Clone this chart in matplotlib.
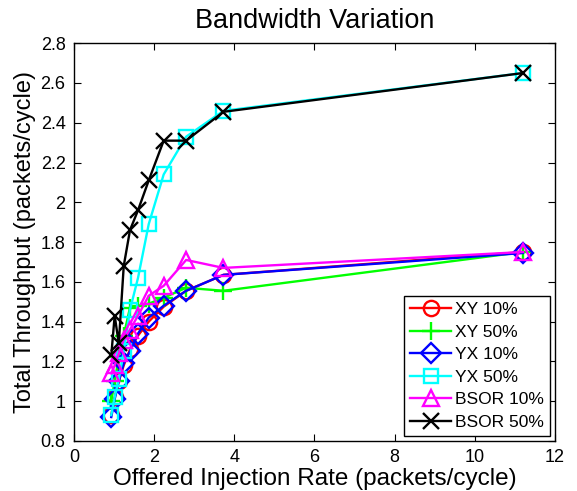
import matplotlib
matplotlib.use("Agg")
import matplotlib.pyplot as plt

plt.rcParams['font.family'] = ['Liberation Sans', 'DejaVu Sans']

# offered injection rates (packets/cycle)
rates = [0.933, 1.018, 1.12, 1.244, 1.4, 1.6, 1.867, 2.24, 2.8, 3.73, 11.2]

xy10 = [0.93, 1.02, 1.10, 1.18, 1.26, 1.33, 1.40, 1.475, 1.555, 1.635, 1.75]
xy50 = [1.00, 1.10, 1.22, 1.33, 1.47, 1.48, 1.49, 1.52, 1.57, 1.555, 1.75]
yx10 = [0.92, 1.01, 1.10, 1.19, 1.25, 1.34, 1.42, 1.48, 1.555, 1.635, 1.745]
yx50 = [0.93, 1.02, 1.11, 1.25, 1.46, 1.62, 1.89, 2.14, 2.33, 2.46, 2.65]
bsor10 = [1.14, 1.18, 1.24, 1.31, 1.36, 1.43, 1.53, 1.58, 1.71, 1.67, 1.75]
bsor50 = [1.23, 1.43, 1.29, 1.68, 1.86, 1.96, 2.11, 2.31, 2.31, 2.455, 2.65]

labels = ['XY 10%', 'XY 50%', 'YX 10%', 'YX 50%', 'BSOR 10%', 'BSOR 50%']
series = [xy10, xy50, yx10, yx50, bsor10, bsor50]
colors = ['#ff0000', '#00ff00', '#0000ff', '#00ffff', '#ff00ff', '#000000']
markers = ['o', '+', 'D', 's', '^', 'x']
msizes = [11, 13, 10, 10, 12, 11]

fig = plt.figure(figsize=(5.77, 4.91), dpi=100)
ax = fig.add_axes([0.128, 0.102, 0.834, 0.81])

for ys, lab, c, m, ms in zip(series, labels, colors, markers, msizes):
    ax.plot(rates, ys, color=c, marker=m, markersize=ms, markerfacecolor='none',
            markeredgecolor=c, markeredgewidth=1.7, linewidth=1.7, label=lab)

ax.set_xlim(0, 12)
ax.set_ylim(0.8, 2.8)
ax.set_xticks(range(0, 13, 2))
ax.set_yticks([0.8, 1, 1.2, 1.4, 1.6, 1.8, 2, 2.2, 2.4, 2.6, 2.8])
ax.set_yticklabels(['0.8', '1', '1.2', '1.4', '1.6', '1.8', '2', '2.2', '2.4', '2.6', '2.8'])
ax.tick_params(direction='in', top=True, right=True, labelsize=13, length=5, pad=6)
for s in ax.spines.values():
    s.set_linewidth(1.0)

ax.set_title('Bandwidth Variation', fontsize=19.5, pad=11)
ax.set_xlabel('Offered Injection Rate (packets/cycle)', fontsize=17.5, labelpad=1)
ax.set_ylabel('Total Throughput (packets/cycle)', fontsize=17, labelpad=3)

leg = ax.legend(loc='lower right', fontsize=12.5, fancybox=False, framealpha=1,
                edgecolor='black', borderpad=0.35, labelspacing=0.42,
                handlelength=2.4, handletextpad=0.2, borderaxespad=0.3)
leg.get_frame().set_linewidth(1.0)

fig.savefig('out.png', dpi=100)
